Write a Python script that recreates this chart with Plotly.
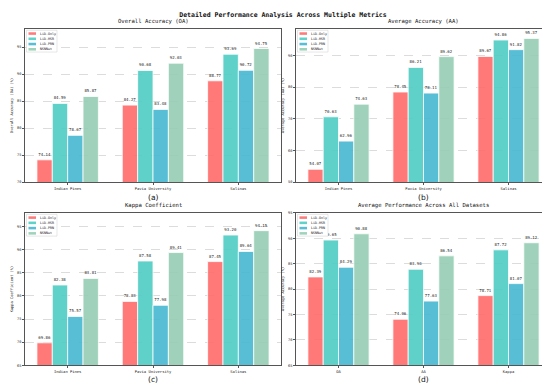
import plotly.graph_objects as go

# ---------------- data ----------------
datasets = ["Indian Pines", "Pavia University", "Salinas"]
metrics = ["OA", "AA", "Kappa"]
methods = ["LiD-Only", "LiD-HSR", "LiD-PRN", "NSNNet"]
colors = ["#FF6B6B", "#4ECDC4", "#45B7D1", "#96CEB4"]

oa_lid_only = [74.14, 84.27, 88.77]
oa_lid_hsr = [84.59, 90.68, 93.69]
oa_lid_prn = [78.67, 83.48, 90.72]
oa_nsnnet = [85.87, 92.03, 94.75]

aa_lid_only = [54.07, 78.45, 89.67]
aa_lid_hsr = [70.63, 86.21, 94.86]
aa_lid_prn = [62.96, 78.11, 91.82]
aa_nsnnet = [74.63, 89.62, 95.37]

kappa_lid_only = [69.86, 78.83, 87.45]
kappa_lid_hsr = [82.38, 87.58, 93.20]
kappa_lid_prn = [75.57, 77.98, 89.64]
kappa_nsnnet = [83.81, 89.41, 94.15]

avg_lid_only = [82.39, 74.06, 78.71]
avg_lid_hsr = [89.65, 83.90, 87.72]
avg_lid_prn = [84.29, 77.63, 81.07]
avg_nsnnet = [90.88, 86.54, 89.12]

panels = [
    dict(cats=datasets, series=[oa_lid_only, oa_lid_hsr, oa_lid_prn, oa_nsnnet],
         title="Overall Accuracy (OA)", ytitle="Overall Accuracy (OA) (%)",
         yrange=[70, 98.4], dtick=5, caption="(a)"),
    dict(cats=datasets, series=[aa_lid_only, aa_lid_hsr, aa_lid_prn, aa_nsnnet],
         title="Average Accuracy (AA)", ytitle="Average Accuracy (AA) (%)",
         yrange=[50, 98.4], dtick=10, caption="(b)"),
    dict(cats=datasets, series=[kappa_lid_only, kappa_lid_hsr, kappa_lid_prn, kappa_nsnnet],
         title="Kappa Coefficient", ytitle="Kappa Coefficient (%)",
         yrange=[65, 98.0], dtick=5, caption="(c)"),
    dict(cats=metrics, series=[avg_lid_only, avg_lid_hsr, avg_lid_prn, avg_nsnnet],
         title="Average Performance Across All Datasets", ytitle="Average Accuracy (%)",
         yrange=[65, 95], dtick=5, caption="(d)"),
]

W, H = 550, 384
# panel frames in pixels: (left, right, top, bottom)
frames = [(17, 273, 19, 174), (288, 543, 19, 174),
          (17, 273, 205, 359), (288, 543, 205, 359)]
caption_y = [189.5, 189.5, 373.5, 373.5]

MONO = "DejaVu Sans Mono"
fig = go.Figure()
layout = dict(
    width=W, height=H, margin=dict(l=0, r=0, t=0, b=0),
    paper_bgcolor="white", plot_bgcolor="white",
    barmode="group", bargap=0.28, bargroupgap=0.0,
    showlegend=False,
    font=dict(family=MONO, color="#222"),
    title=dict(text="<b>Detailed Performance Analysis Across Multiple Metrics</b>",
               x=0.5, xanchor="center", y=1 - 6.5 / H, yanchor="middle",
               font=dict(family=MONO, size=6.5, color="#111")),
)
annotations = []
shapes = []

for p, (panel, fr) in enumerate(zip(panels, frames)):
    idx = "" if p == 0 else str(p + 1)
    xa, ya = "x" + idx, "y" + idx
    l, r, t, b = fr
    layout["xaxis" + idx] = dict(
        domain=[l / W, r / W], anchor=ya, type="category",
        range=[-0.5, 2.5], showline=True, mirror=True, linecolor="#555", linewidth=0.8,
        ticks="outside", ticklen=2, tickwidth=0.6, tickcolor="#555",
        tickfont=dict(family=MONO, size=3.8, color="#222"), showgrid=False,
        fixedrange=True)
    layout["yaxis" + idx] = dict(
        domain=[1 - b / H, 1 - t / H], anchor=xa, range=panel["yrange"],
        dtick=panel["dtick"], tick0=0, showline=True, mirror=True, linecolor="#555",
        linewidth=0.8, ticks="outside", ticklen=2, tickwidth=0.6, tickcolor="#555",
        tickfont=dict(family=MONO, size=3.6, color="#222"),
        showgrid=True, gridcolor="#dcdcdc", gridwidth=0.5, griddash="dash",
        zeroline=False,
        title=dict(text=panel["ytitle"], font=dict(family=MONO, size=3.7, color="#222"),
                   standoff=3),
        fixedrange=True)

    for name, vals, col in zip(methods, panel["series"], colors):
        fig.add_trace(go.Bar(
            x=panel["cats"], y=vals, name=name, xaxis=xa, yaxis=ya,
            marker=dict(color=col, opacity=0.9, line=dict(color="white", width=0.8)),
            text=[f"{v:.2f}" for v in vals], textposition="outside",
            textfont=dict(family=MONO, size=4.0, color="#222"),
            cliponaxis=False, showlegend=False))

    # panel title
    annotations.append(dict(text=panel["title"], xref=xa + " domain", yref=ya + " domain",
                            x=0.5, y=1, xanchor="center", yanchor="bottom", yshift=1.5,
                            showarrow=False, font=dict(family=MONO, size=5.6, color="#111")))
    # caption
    annotations.append(dict(text=panel["caption"], xref="paper", yref="paper",
                            x=(l + r) / 2 / W, y=1 - caption_y[p] / H,
                            xanchor="center", yanchor="middle", showarrow=False,
                            font=dict(family="DejaVu Sans", size=7.5, color="#111")))
    # legend (upper-left box)
    ph = b - t
    pw = r - l
    shapes.append(dict(type="rect", xref=xa + " domain", yref=ya + " domain",
                       x0=1.5 / pw, x1=32 / pw, y0=1 - 23.5 / ph, y1=1 - 1.5 / ph,
                       fillcolor="white", line=dict(color="#cccccc", width=0.5),
                       layer="above"))
    for i, (name, col) in enumerate(zip(methods, colors)):
        yc = 1 - (4.8 + 5.3 * i) / ph
        shapes.append(dict(type="rect", xref=xa + " domain", yref=ya + " domain",
                           x0=3.5 / pw, x1=11 / pw, y0=yc - 1.3 / ph, y1=yc + 1.3 / ph,
                           fillcolor=col, opacity=0.9, line=dict(width=0), layer="above"))
        annotations.append(dict(text=name, xref=xa + " domain", yref=ya + " domain",
                                x=13 / pw, y=yc, xanchor="left", yanchor="middle",
                                showarrow=False,
                                font=dict(family=MONO, size=3.3, color="#222")))

layout["annotations"] = annotations
layout["shapes"] = shapes
fig.update_layout(**layout)
fig.write_html("out.html")
